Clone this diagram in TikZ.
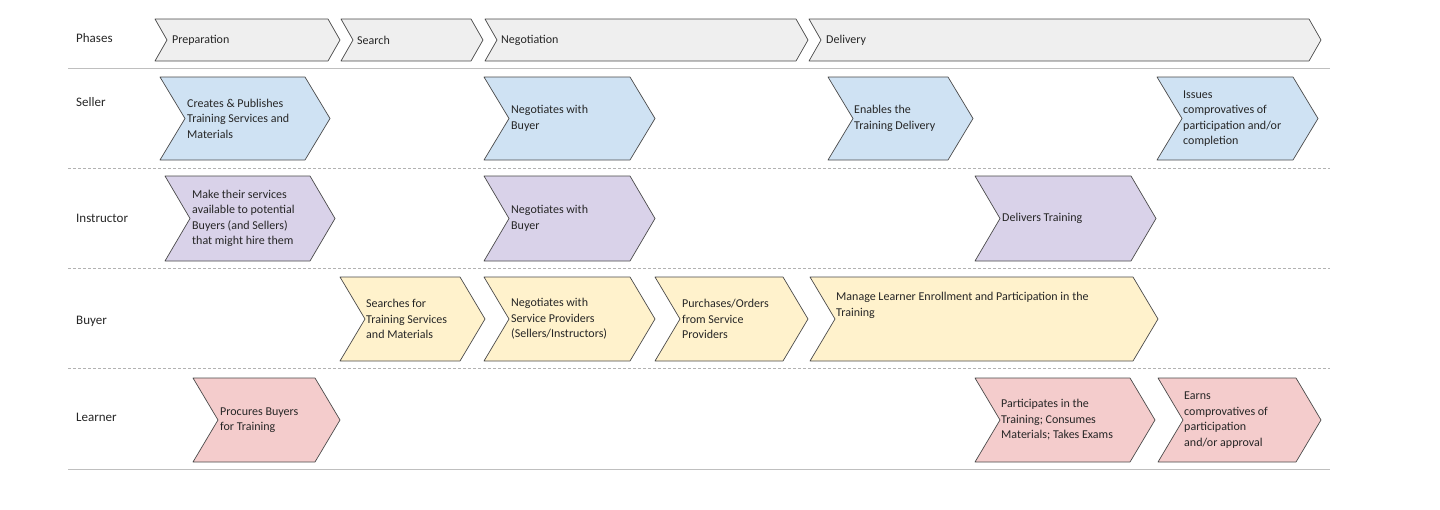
\documentclass[tikz,border=0pt]{standalone}
\usepackage{fontspec}
\setmainfont{Carlito}
\definecolor{cblue}{HTML}{CFE2F3}
\definecolor{cpurp}{HTML}{D9D2E9}
\definecolor{cyel}{HTML}{FFF2CC}
\definecolor{cpink}{HTML}{F4CCCC}
\definecolor{cgray}{HTML}{EFEFEF}
\definecolor{edge}{HTML}{4A4A4A}
\tikzset{chevtxt/.style={anchor=west,align=left,inner sep=0pt,font=\fontsize{12}{15.5}\selectfont,text=black!85},
 rowlab/.style={anchor=west,inner sep=0pt,font=\fontsize{13}{15}\selectfont,text=black!85},
 chevshape/.style={draw=edge,line width=0.7pt,line join=round}}
\newcommand{\mychev}[9]{%
 \path[chevshape,fill=#7] (#2,#4) -- ({#3-#6},#4) -- (#3,{(#4+#5)/2}) -- ({#3-#6},#5) -- (#2,#5) -- ({#2+#6},{(#4+#5)/2}) -- cycle;
 \node[chevtxt] (#1) at ({#2+#6+#9},{(#4+#5)/2}) {#8};}
\begin{document}
\begin{tikzpicture}[x=1pt,y=-1pt]
\useasboundingbox (0,0) rectangle (1440,509);
% lines
\draw[black!25,line width=0.8pt] (68,68) -- (1330,68);
\foreach \yy in {168,268,368}{\draw[black!30,dashed,dash pattern=on 3pt off 2pt,line width=0.6pt] (68,\yy) -- (1330,\yy);}
\draw[black!25,line width=0.8pt] (68,469) -- (1330,469);
% row labels
\node[rowlab] (lphase) at (76,38) {Phases};
\node[rowlab] (lseller) at (76,102) {Seller};
\node[rowlab] (linstr) at (76,218) {Instructor};
\node[rowlab] (lbuyer) at (76,321) {Buyer};
\node[rowlab] (llearn) at (76,417) {Learner};
% phases
\mychev{pprep}{155}{340}{19}{61}{12}{cgray}{Preparation}{5}
\mychev{psearch}{341}{483}{19}{61}{12}{cgray}{Search}{4}
\mychev{pneg}{485}{808}{19}{61}{12}{cgray}{Negotiation}{4}
\mychev{pdel}{809}{1321}{19}{61}{12}{cgray}{Delivery}{5}
% seller
\mychev{s1}{160}{330}{77}{160}{25}{cblue}{Creates \& Publishes\\Training Services and\\Materials}{2}
\mychev{s2}{484}{655}{77}{160}{25}{cblue}{Negotiates with\\Buyer}{2}
\mychev{s3}{828}{973}{77}{160}{25}{cblue}{Enables the\\Training Delivery}{1}
\mychev{s4}{1157}{1318}{77}{160}{25}{cblue}{Issues\\comprovatives of\\participation and/or\\completion}{1}
% instructor
\mychev{i1}{165}{335}{176}{261}{25}{cpurp}{Make their services\\available to potential\\Buyers (and Sellers)\\that might hire them}{2}
\mychev{i2}{484}{655}{176}{261}{25}{cpurp}{Negotiates with\\Buyer}{2}
\mychev{i3}{975}{1156}{176}{261}{25}{cpurp}{Delivers Training}{2}
% buyer
\mychev{b1}{340}{485}{277}{361}{25}{cyel}{Searches for\\Training Services\\and Materials}{1}
\mychev{b2}{484}{655}{277}{361}{25}{cyel}{Negotiates with\\Service Providers\\(Sellers/Instructors)}{2}
\mychev{b3}{655}{808}{277}{361}{25}{cyel}{Purchases/Orders\\from Service\\Providers}{2}
\mychev{b4}{810}{1158}{277}{361}{25}{cyel}{Manage Learner Enrollment and Participation in the\\Training\\[14pt]}{1}
% learner
\mychev{l1}{193}{340}{378}{462}{25}{cpink}{Procures Buyers\\for Training}{2}
\mychev{l2}{975}{1155}{378}{462}{25}{cpink}{Participates in the\\Training; Consumes\\Materials; Takes Exams}{1}
\mychev{l3}{1158}{1321}{378}{462}{25}{cpink}{Earns\\comprovatives of\\participation\\and/or approval}{1}
\end{tikzpicture}
\end{document}
